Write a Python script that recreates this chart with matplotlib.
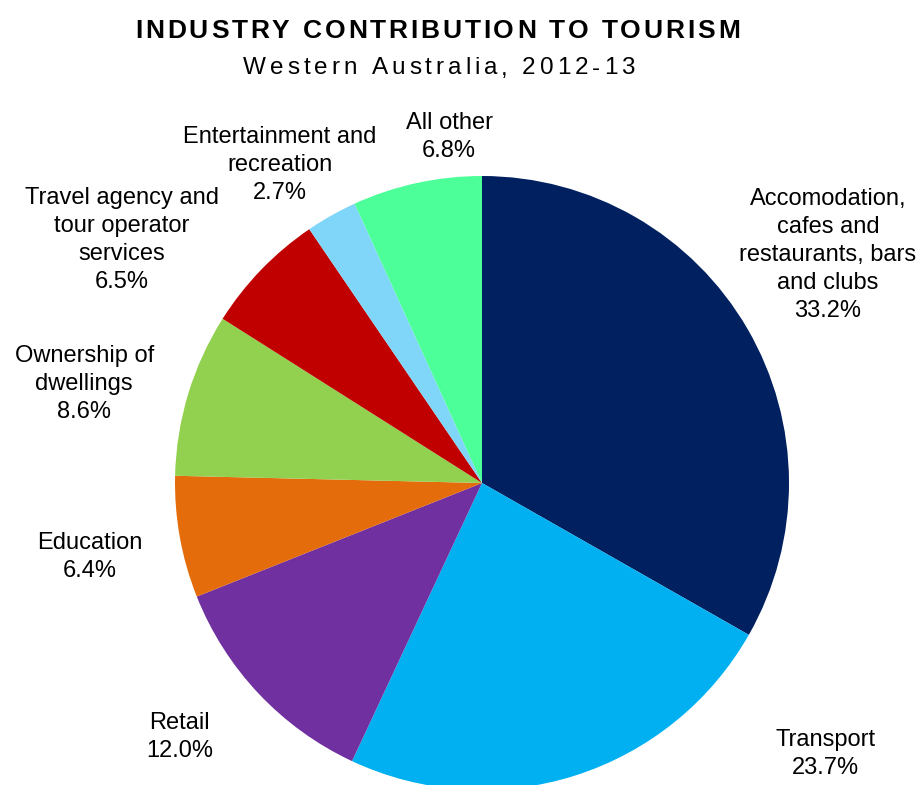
'''
Industry contribution to tourism, Western Australia 2012-13
pie chart with spaced-out title text
'''

import matplotlib.pyplot as plt
import matplotlib as mpl

mpl.rcParams['font.family'] = ['Liberation Sans', 'DejaVu Sans']

#slice data, clockwise from 12 o'clock
sectors = ['Accomodation,\ncafes and\nrestaurants, bars\nand clubs',
           'Transport',
           'Retail',
           'Education',
           'Ownership of\ndwellings',
           'Travel agency and\ntour operator\nservices',
           'Entertainment and\nrecreation',
           'All other']
shares = [33.2, 23.7, 12.0, 6.4, 8.6, 6.5, 2.7, 6.8]
colours = ['#002060', '#00B0F0', '#7030A0', '#E46C0A',
           '#92D050', '#C00000', '#80D6F8', '#4CFF99']

#label centres in pie-radius units
label_xy = [(1.127, 0.743), (1.12, -0.883), (-0.984, -0.827), (-1.277, -0.241),
            (-1.296, 0.322), (-1.173, 0.792), (-0.658, 1.036), (-0.107, 1.127)]

W, H = 918, 785
fig = plt.figure(figsize=(W/100, H/100), dpi=100)

#pie centre at (482, 483) px from top-left, radius 307 px
cx, cy, r = 482, 483, 307
ax = fig.add_axes([(cx-r)/W, (H-cy-r)/H, 2*r/W, 2*r/H])
ax.pie(shares, colors=colours, startangle=90, counterclock=False, radius=1,
       wedgeprops=dict(linewidth=0))
ax.set_xlim(-1, 1)
ax.set_ylim(-1, 1)
ax.set_aspect('equal')
ax.axis('off')
for p in ax.patches:
    p.set_clip_on(False)

for name, val, (x, y) in zip(sectors, shares, label_xy):
    ax.text(x, y, f'{name}\n{val:.1f}%', ha='center', va='center',
            fontsize=17, linespacing=1.36, clip_on=False)


def tracked_text(s, xc, yc, width, **kw):
    '''draw s centred at pixel (xc, yc from top), letters spread to fill width'''
    rend = fig.canvas.get_renderer()

    def w(txt):
        t = fig.text(0, 0, txt, **kw)
        ext = t.get_window_extent(rend).width
        t.remove()
        return ext
    base = w('II')
    adv = [w('I'+ch+'I') - base for ch in s]
    gap = (width - sum(adv)) / (len(s)-1)
    x = xc - width/2
    for ch, a in zip(s, adv):
        fig.text(x/W, 1-yc/H, ch, ha='left', va='center_baseline', **kw)
        x += a + gap


tracked_text('INDUSTRY CONTRIBUTION TO TOURISM', 437.5, 29, 605,
             fontsize=19, fontweight='bold')
tracked_text('Western Australia, 2012-13', 439, 66, 392, fontsize=17.5)

plt.savefig('out.png', dpi=100)
